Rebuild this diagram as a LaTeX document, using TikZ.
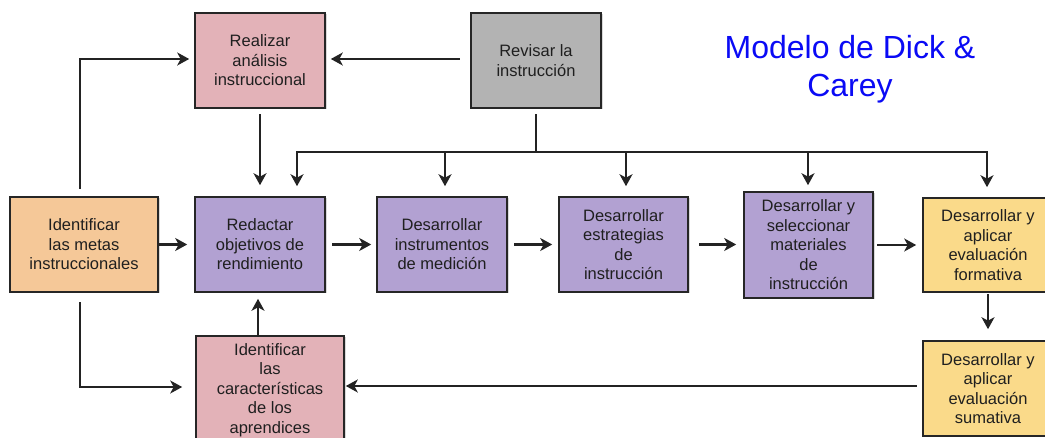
\documentclass[tikz,border=0pt]{standalone}
\usepackage{fontspec}
\setmainfont{Liberation Sans}
\usetikzlibrary{arrows.meta,shadows}
\definecolor{pinkbox}{RGB}{227,178,184}
\definecolor{greybox}{RGB}{179,179,179}
\definecolor{orangebox}{RGB}{245,200,152}
\definecolor{purplebox}{RGB}{178,161,210}
\definecolor{yellowbox}{RGB}{250,218,138}
\definecolor{titleblue}{RGB}{10,10,245}
\definecolor{linegrey}{RGB}{35,35,35}
\begin{document}
\begin{tikzpicture}[x=1pt,y=-1pt,
  box/.style={draw=black!85, line width=1.6pt, rectangle, align=center, inner sep=0pt,
    font=\fontsize{16.5}{19.5}\selectfont, text=black!88,
    drop shadow={shadow xshift=1.5pt,shadow yshift=-1.5pt,opacity=0.3}},
  conn/.style={draw=linegrey, line width=2.7pt, line cap=rect},
  arr/.style={conn, -{Stealth[length=12pt,width=13pt,inset=3.5pt]}}]
\useasboundingbox (0,0) rectangle (1045,438);
\begin{scope}
\clip (0,0) rectangle (1045,438);
% boxes
\node[box, fill=pinkbox, minimum width=130pt, minimum height=95pt] (realizar) at (260,60.5) {Realizar\\análisis\\instruccional};
\node[box, fill=greybox, minimum width=130pt, minimum height=95pt] (revisar) at (536,60.5) {Revisar la\\instrucción};
\node[box, fill=orangebox, minimum width=148pt, minimum height=95pt] (metas) at (84,244.5) {Identificar\\las metas\\instruccionales};
\node[box, fill=purplebox, minimum width=130pt, minimum height=95pt] (redactar) at (260,244.5) {Redactar\\objetivos de\\rendimiento};
\node[box, fill=purplebox, minimum width=130pt, minimum height=95pt] (instr) at (442,244.5) {Desarrollar\\instrumentos\\de medición};
\node[box, fill=purplebox, minimum width=129pt, minimum height=95pt] (estrat) at (623.5,244.5) {Desarrollar\\estrategias\\de\\instrucción};
\node[box, fill=purplebox, minimum width=129pt, minimum height=106pt] (mater) at (808.5,245) {Desarrollar y\\seleccionar\\materiales\\de\\instrucción};
\node[box, fill=yellowbox, minimum width=130pt, minimum height=94pt] (format) at (988,245) {Desarrollar y\\aplicar\\evaluación\\formativa};
\node[box, fill=yellowbox, minimum width=130pt, minimum height=95pt] (sumat) at (988,388.5) {Desarrollar y\\aplicar\\evaluación\\sumativa};
\node[box, fill=pinkbox, minimum width=148pt, minimum height=108pt] (caract) at (270,390) {Identificar\\las\\características\\de los\\aprendices};
% title
\node[font=\fontsize{32}{38}\selectfont, text=titleblue, align=center] (title) at (850,69) {Modelo de Dick \&\\Carey};
% bus from revisar
\coordinate (bus) at (0,152);
\coordinate (b1) at (297,152);
\coordinate (b2) at (445,152);
\coordinate (b3) at (626,152);
\coordinate (b4) at (808,152);
\coordinate (b5) at (987,152);
\draw[conn] ([yshift=-7pt]revisar.south) -- (revisar.south |- bus);
\draw[conn] (b1) -- (b5);
\draw[arr, shorten >=10pt] (b1) -- (b1 |- redactar.north);
\draw[arr, shorten >=10pt] (b2) -- (b2 |- instr.north);
\draw[arr, shorten >=10pt] (b3) -- (b3 |- estrat.north);
\draw[arr, shorten >=6pt] (b4) -- (b4 |- mater.north);
\draw[arr, shorten >=10pt] (b5) -- (b5 |- format.north);
% other connectors
\draw[arr, shorten <=7pt, shorten >=11pt] (realizar) -- (redactar);
\draw[arr, shorten <=12pt, shorten >=5pt] ([yshift=1.5pt]revisar.west) -- ([yshift=1.5pt]realizar.east);
\draw[arr] ([xshift=-4pt,yshift=9pt]metas.north) |- ([xshift=-5pt,yshift=1.5pt]realizar.west);
\draw[arr, shorten <=2pt, shorten >=7pt] (metas) -- (redactar);
\draw[arr, shorten <=8pt, shorten >=5pt] (redactar) -- (instr);
\draw[arr, shorten <=8pt, shorten >=6pt] (instr) -- (estrat);
\draw[arr, shorten <=12pt, shorten >=7pt] (estrat.east) -- (estrat.east -| mater.west);
\draw[arr, shorten <=5pt, shorten >=6pt] (mater.east |- format.west) -- (format.west);
\draw[arr, shorten <=3pt, shorten >=11pt] (format) -- (sumat);
\draw[arr, shorten <=7pt, shorten >=1pt] ([yshift=2.5pt]sumat.west) -- ([yshift=2.5pt]sumat.west -| caract.east);
\draw[arr, shorten >=6pt] ([xshift=-12pt]caract.north) -- ([xshift=-12pt]caract.north |- redactar.south);
\draw[arr] ([xshift=-4pt,yshift=-11pt]metas.south) |- ([xshift=-13pt,yshift=3pt]caract.west);
\end{scope}
\end{tikzpicture}
\end{document}
